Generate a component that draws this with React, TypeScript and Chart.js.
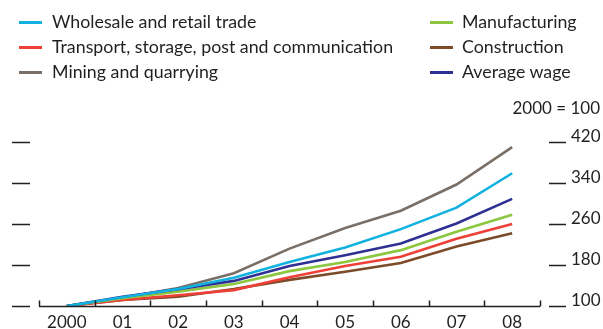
import React, { useEffect, useRef } from "react";
import { Chart, registerables } from "chart.js";

Chart.register(...registerables);

const years = ["2000", "01", "02", "03", "04", "05", "06", "07", "08"];
const wholesale = [100, 117, 133, 155, 186, 214, 250, 292, 359];
const transport = [100, 112, 121, 131, 156, 178, 196, 231, 260];
const mining = [100, 116, 135, 164, 212, 252, 286, 337, 410];
const manufacturing = [100, 115, 128, 143, 168, 186, 209, 245, 278];
const construction = [100, 112, 118, 133, 151, 167, 184, 216, 242];
const averageWage = [100, 118, 133, 149, 178, 199, 222, 261, 309];
const yTicks = [100, 180, 260, 340, 420];

const C_CYAN = "#11b2e0";
const C_RED = "#ee4036";
const C_GRAY = "#7a6f66";
const C_GREEN = "#8dc63f";
const C_BROWN = "#7b4b2a";
const C_NAVY = "#2e3192";
const TXT = "#231f20";
const FONT = "Lato, 'Open Sans', sans-serif";

const legendLeft = [
  { label: "Wholesale and retail trade", color: C_CYAN },
  { label: "Transport, storage, post and communication", color: C_RED },
  { label: "Mining and quarrying", color: C_GRAY },
];
const legendRight = [
  { label: "Manufacturing", color: C_GREEN },
  { label: "Construction", color: C_BROWN },
  { label: "Average wage", color: C_NAVY },
];

const tickPlugin = {
  id: "tickMarks",
  afterDraw(chart: any) {
    const ctx = chart.ctx;
    const ys = chart.scales.y;
    const xs = chart.scales.x;
    const a = chart.chartArea;
    ctx.save();
    ctx.strokeStyle = TXT;
    ctx.lineWidth = 1.3;
    ctx.beginPath();
    for (const v of yTicks) {
      const py = Math.round(ys.getPixelForValue(v)) + 0.5;
      ctx.moveTo(a.left - 27, py);
      ctx.lineTo(a.left - 9, py);
      ctx.moveTo(a.right + 9, py);
      ctx.lineTo(a.right + 26, py);
    }
    ctx.stroke();
    const by = Math.round(a.bottom) + 0.5;
    ctx.lineWidth = 1.5;
    ctx.beginPath();
    ctx.moveTo(a.left, by);
    ctx.lineTo(a.right, by);
    const half = (xs.getPixelForValue(1) - xs.getPixelForValue(0)) / 2;
    for (let i = 0; i <= years.length; i++) {
      const px = Math.round(xs.getPixelForValue(i) - half) + 0.5;
      ctx.moveTo(px, by);
      ctx.lineTo(px, by - 6);
    }
    ctx.stroke();
    ctx.restore();
  },
};

export default function App() {
  const ref = useRef<HTMLCanvasElement | null>(null);
  useEffect(() => {
    if (!ref.current) return;
    const mk = (label: string, data: number[], color: string) => ({
      label,
      data,
      borderColor: color,
      backgroundColor: color,
      borderWidth: 2.6,
      pointRadius: 0,
      tension: 0,
      fill: false,
    });
    const chart = new Chart(ref.current, {
      type: "line",
      data: {
        labels: years,
        datasets: [
          mk("Wholesale and retail trade", wholesale, C_CYAN),
          mk("Average wage", averageWage, C_NAVY),
          mk("Manufacturing", manufacturing, C_GREEN),
          mk("Transport, storage, post and communication", transport, C_RED),
          mk("Construction", construction, C_BROWN),
          mk("Mining and quarrying", mining, C_GRAY),
        ],
      },
      options: {
        animation: false,
        responsive: false,
        maintainAspectRatio: false,
        layout: { padding: { left: 39, top: 142, right: 0, bottom: 0 } },
        plugins: { legend: { display: false }, tooltip: { enabled: false }, title: { display: false } },
        scales: {
          x: {
            type: "category",
            offset: true,
            grid: { display: false, drawTicks: false },
            border: { display: false },
            ticks: {
              font: { family: FONT, size: 17 },
              color: TXT,
              padding: 6,
              maxRotation: 0,
              autoSkip: false,
            },
            afterFit: (s: any) => {
              s.height = 23;
              s.paddingLeft = 0;
              s.paddingRight = 0;
            },
          },
          y: {
            type: "linear",
            position: "right",
            min: 100,
            max: 420,
            afterBuildTicks: (s: any) => {
              s.ticks = yTicks.map((v) => ({ value: v }));
            },
            grid: { display: false, drawTicks: false },
            border: { display: false },
            ticks: {
              font: { family: FONT, size: 17 },
              color: TXT,
              padding: 31,
              labelOffset: -5,
            },
            afterFit: (s: any) => {
              s.width = 63;
              s.paddingTop = 0;
              s.paddingBottom = 0;
            },
          },
        },
      },
      plugins: [tickPlugin],
    });
    return () => chart.destroy();
  }, []);

  const legendItem = (it: { label: string; color: string }, i: number, lineX: number, textX: number) => (
    <React.Fragment key={it.label}>
      <div
        style={{
          position: "absolute",
          left: lineX,
          top: 22 + i * 25 - 1,
          width: 23,
          height: 2.5,
          background: it.color,
        }}
      />
      <div
        style={{
          position: "absolute",
          left: textX,
          top: 22 + i * 25 - 12,
          fontFamily: FONT,
          fontSize: 17.8,
          lineHeight: "22px",
          color: TXT,
          whiteSpace: "nowrap",
        }}
      >
        {it.label}
      </div>
    </React.Fragment>
  );

  return (
    <div style={{ position: "absolute", left: 0, top: 0, width: 603, height: 329, background: "#fff", overflow: "hidden" }}>
      <canvas ref={ref} width={603} height={329} style={{ position: "absolute", left: 0, top: 0, width: 603, height: 329 }} />
      {legendLeft.map((it, i) => legendItem(it, i, 19, 52))}
      {legendRight.map((it, i) => legendItem(it, i, 430, 462))}
      <div
        style={{
          position: "absolute",
          right: 3,
          top: 97,
          fontFamily: FONT,
          fontSize: 17,
          lineHeight: "22px",
          color: TXT,
          whiteSpace: "nowrap",
        }}
      >
        2000 = 100
      </div>
    </div>
  );
}
